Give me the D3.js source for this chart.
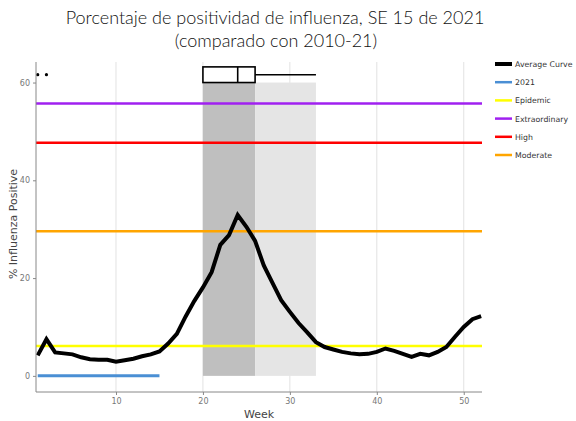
<!DOCTYPE html>
<html>
<head>
<meta charset="utf-8">
<script src="https://cdn.jsdelivr.net/npm/d3@7"></script>
<style>
  html, body { margin: 0; padding: 0; background: #fff; }
  svg { display: block; }
</style>
</head>
<body>
<svg id="chart" width="576" height="421"></svg>
<script>
// Weekly average % influenza positive (historical seasons)
const weeks = d3.range(1, 53);
const averageCurve = [
  4.2, 7.5, 4.8, 4.6, 4.4, 3.8, 3.4, 3.3, 3.3, 2.9,
  3.2, 3.5, 4.0, 4.4, 5.0, 6.6, 8.6, 12.1, 15.3, 18.1,
  21.2, 26.8, 28.8, 32.9, 30.5, 27.6, 22.6, 19.0, 15.5, 13.1,
  10.8, 8.9, 6.9, 5.9, 5.4, 4.9, 4.6, 4.4, 4.5, 4.9,
  5.6, 5.1, 4.5, 3.9, 4.5, 4.2, 4.9, 5.9, 8.0, 10.0,
  11.6, 12.2
];
// Current season, reported through week 15
const weeks2021 = d3.range(1, 16);
const values2021 = [0, 0, 0, 0, 0, 0, 0, 0, 0, 0, 0, 0, 0, 0, 0];

// Alert thresholds
const thresholdNames = ["Epidemic", "Extraordinary", "High", "Moderate"];
const thresholdValues = [6.1, 55.7, 47.7, 29.6];
const thresholdColors = ["#ffff00", "#a020f0", "#ff0000", "#ffa500"];

// Peak-week distribution across seasons
const peakQ1 = 20, peakMedian = 24, peakQ3 = 26, peakWhiskerHigh = 33;
const peakOutliers = [1, 2];

const xTicks = [10, 20, 30, 40, 50];
const yTicks = [0, 20, 40, 60];

const legendNames = ["Average Curve", "2021", ...thresholdNames];
const legendColors = ["#000000", "#4a8fd4", ...thresholdColors];

const margin = { top: 62, right: 94, bottom: 29, left: 36 };
const W = 576, H = 421;
const svg = d3.select("#chart");

const x = d3.scaleLinear().domain([0.8, 52.1]).range([margin.left, W - margin.right]);
const y = d3.scaleLinear().domain([-3.3, 64.2]).range([H - margin.bottom, margin.top]);

// Title
const title = svg.append("g")
  .attr("font-family", "Lato, 'Open Sans', sans-serif")
  .attr("font-weight", 300)
  .attr("font-size", 18)
  .attr("fill", "#111")
  .attr("text-anchor", "middle");
title.append("text").attr("x", 275).attr("y", 24).text("Porcentaje de positividad de influenza, SE 15 de 2021");
title.append("text").attr("x", 276).attr("y", 47).text("(comparado con 2010-21)");

// Vertical grid
svg.append("g").selectAll("line").data(xTicks).join("line")
  .attr("x1", d => x(d)).attr("x2", d => x(d))
  .attr("y1", margin.top).attr("y2", H - margin.bottom)
  .attr("stroke", "#e2e2e2").attr("stroke-width", 1);

// Season shading: dark = Q1..Q3 of peak week, light = Q3..upper whisker
svg.append("rect")
  .attr("x", x(peakQ1)).attr("width", x(peakQ3) - x(peakQ1))
  .attr("y", y(60)).attr("height", y(0) - y(60))
  .attr("fill", "#bfbfbf");
svg.append("rect")
  .attr("x", x(peakQ3)).attr("width", x(peakWhiskerHigh) - x(peakQ3))
  .attr("y", y(60)).attr("height", y(0) - y(60))
  .attr("fill", "#e5e5e5");

// Threshold lines
thresholdValues.forEach((v, i) => {
  svg.append("line")
    .attr("x1", margin.left).attr("x2", W - margin.right)
    .attr("y1", y(v)).attr("y2", y(v))
    .attr("stroke", thresholdColors[i]).attr("stroke-width", 2.5);
});

// 2021 line
svg.append("path")
  .datum(weeks2021.map((w, i) => [w, values2021[i]]))
  .attr("fill", "none").attr("stroke", "#4a8fd4").attr("stroke-width", 3)
  .attr("d", d3.line().x(d => x(d[0])).y(d => y(d[1])));

// Average curve
svg.append("path")
  .datum(weeks.map((w, i) => [w, averageCurve[i]]))
  .attr("fill", "none").attr("stroke", "#000").attr("stroke-width", 4)
  .attr("stroke-linejoin", "miter")
  .attr("d", d3.line().x(d => x(d[0])).y(d => y(d[1])));

// Peak-week box plot
const boxMid = 61.6, boxHalf = 1.6;
const box = svg.append("g").attr("stroke", "#000").attr("stroke-width", 1.6);
box.append("line")
  .attr("x1", x(peakQ3)).attr("x2", x(peakWhiskerHigh))
  .attr("y1", y(boxMid)).attr("y2", y(boxMid));
box.append("rect")
  .attr("x", x(peakQ1)).attr("width", x(peakQ3) - x(peakQ1))
  .attr("y", y(boxMid + boxHalf)).attr("height", y(boxMid - boxHalf) - y(boxMid + boxHalf))
  .attr("fill", "#fff");
box.append("line")
  .attr("x1", x(peakMedian)).attr("x2", x(peakMedian))
  .attr("y1", y(boxMid + boxHalf)).attr("y2", y(boxMid - boxHalf));
svg.append("g").selectAll("circle").data(peakOutliers).join("circle")
  .attr("cx", d => x(d)).attr("cy", y(boxMid)).attr("r", 1.6).attr("fill", "#000");

// Axes
const axisFont = "'DejaVu Sans', Verdana, sans-serif";
const xAxis = svg.append("g")
  .attr("transform", `translate(0,${H - margin.bottom})`)
  .call(d3.axisBottom(x).tickValues(xTicks).tickSize(3).tickPadding(3));
const yAxis = svg.append("g")
  .attr("transform", `translate(${margin.left},0)`)
  .call(d3.axisLeft(y).tickValues(yTicks).tickSize(3).tickPadding(3));
[xAxis, yAxis].forEach(a => {
  a.select(".domain").attr("stroke", "#888").attr("stroke-width", 1);
  a.selectAll(".tick line").attr("stroke", "#888");
  a.selectAll(".tick text").attr("fill", "#777").attr("font-size", 8).attr("font-family", axisFont);
});
xAxis.select(".domain").attr("d", `M${margin.left},0H${W - margin.right}`);
yAxis.select(".domain").attr("d", `M0,${margin.top}V${H - margin.bottom}`);

svg.append("text")
  .attr("x", (margin.left + W - margin.right) / 2).attr("y", 418)
  .attr("text-anchor", "middle").attr("font-family", axisFont)
  .attr("font-size", 11).attr("fill", "#444").text("Week");
svg.append("text")
  .attr("transform", `translate(17,${(margin.top + H - margin.bottom) / 2 - 3}) rotate(-90)`)
  .attr("text-anchor", "middle").attr("font-family", axisFont)
  .attr("font-size", 11).attr("fill", "#444").text("% Influenza Positive");

// Legend
const legend = svg.append("g").attr("transform", "translate(495,64)");
legendNames.forEach((name, i) => {
  const g = legend.append("g").attr("transform", `translate(0,${i * 18.2})`);
  g.append("line").attr("x1", 0).attr("x2", 17).attr("y1", 0).attr("y2", 0)
    .attr("stroke", legendColors[i]).attr("stroke-width", i === 0 ? 4 : 2.5);
  g.append("text").attr("x", 20).attr("y", 3)
    .attr("font-family", axisFont).attr("font-size", 7.8).attr("fill", "#333").text(name);
});
</script>
</body>
</html>
